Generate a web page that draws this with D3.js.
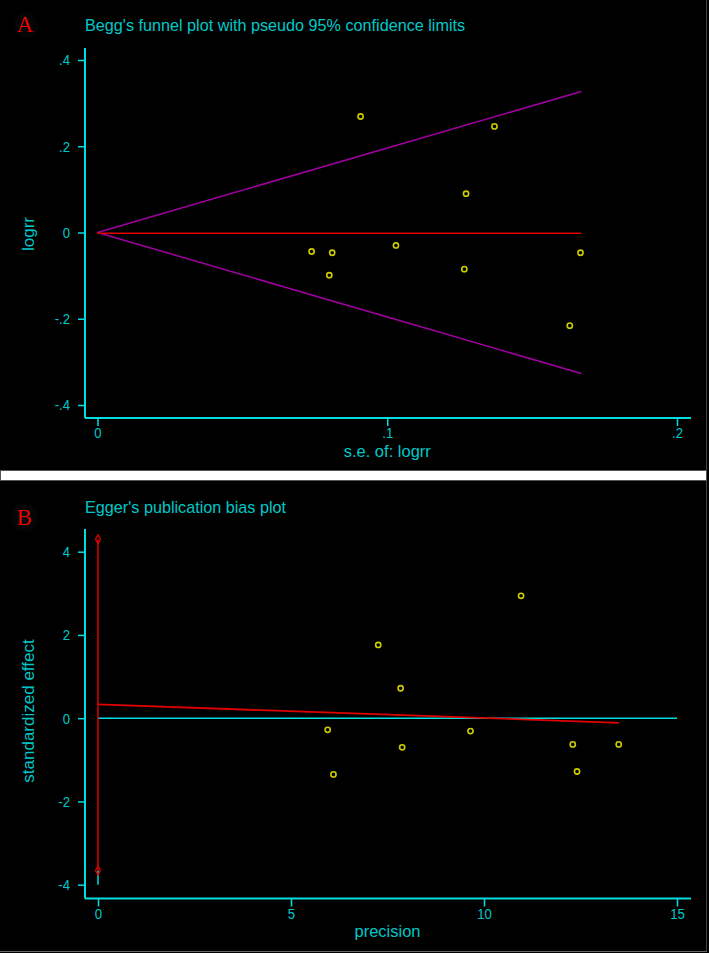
<!DOCTYPE html>
<html>
<head>
<meta charset="utf-8">
<script src="https://cdn.jsdelivr.net/npm/d3@7"></script>
<style>
  html, body { margin: 0; padding: 0; background: #000; }
  svg text { font-family: "Liberation Sans", Arial, sans-serif; }
</style>
</head>
<body>
<div id="chart"></div>
<script>
// Panel A: Begg's funnel plot
const beggSE = [0.0908, 0.137, 0.1272, 0.0739, 0.081, 0.080, 0.103, 0.1266, 0.1667, 0.163];
const beggLogRR = [0.269, 0.246, 0.090, -0.044, -0.047, -0.099, -0.030, -0.085, -0.047, -0.216];
const funnelSE = [0, 0.167];
const funnelUpper = [0, 0.327];
const funnelLower = [0, -0.327];
const pooledLogRR = [-0.002, -0.002];
const beggXTicks = [0, 0.1, 0.2];
const beggYTicks = [-0.4, -0.2, 0, 0.2, 0.4];

// Panel B: Egger's publication bias plot
const eggerPrecision = [10.96, 7.26, 7.84, 5.95, 6.10, 7.88, 9.65, 12.30, 12.41, 13.49];
const eggerEffect = [2.94, 1.76, 0.72, -0.28, -1.35, -0.70, -0.31, -0.63, -1.28, -0.63];
const eggerFitX = [0, 13.5];
const eggerFitY = [0.33, -0.11];
const eggerCI = [-3.66, 4.30];
const eggerXTicks = [0, 5, 10, 15];
const eggerYTicks = [-4, -2, 0, 2, 4];

const W = 709, H = 953;
const cyanText = "#00c8c8", cyanLine = "#00dede", yellow = "#cccc00";

const svg = d3.select("#chart").append("svg")
    .attr("width", W)
    .attr("height", H)
    .style("display", "block");

svg.append("rect").attr("width", W).attr("height", H).attr("fill", "#000");

// white separator band and frame edges
svg.append("rect")
    .attr("x", 0.5).attr("y", 470.5).attr("width", 706).attr("height", 10)
    .attr("fill", "#fff").attr("stroke", "#555");
svg.append("line").attr("x1", 706.5).attr("x2", 706.5).attr("y1", 0).attr("y2", 470)
    .attr("stroke", "#444");
svg.append("line").attr("x1", 706.5).attr("x2", 706.5).attr("y1", 481).attr("y2", 952)
    .attr("stroke", "#444");
svg.append("line").attr("x1", 0).attr("x2", 707).attr("y1", 951.5).attr("y2", 951.5)
    .attr("stroke", "#666");

const glow = svg.append("defs").append("filter").attr("id", "glow")
    .attr("x", "-150%").attr("y", "-150%").attr("width", "400%").attr("height", "400%");
glow.append("feGaussianBlur").attr("in", "SourceAlpha").attr("stdDeviation", 7).attr("result", "b");
glow.append("feFlood").attr("flood-color", "#3a3a3a");
glow.append("feComposite").attr("in2", "b").attr("operator", "in").attr("result", "s");
const gm = glow.append("feMerge");
gm.append("feMergeNode").attr("in", "s");
gm.append("feMergeNode").attr("in", "SourceGraphic");

// Stata style labels: no leading zero, plain hyphen for minus
const fmt = d => d === 0 ? "0" : d3.format(".1f")(d).replace("0.", ".").replace("−", "-");
const fmtInt = d => d3.format("d")(d).replace("−", "-");

function panel(opt) {
  const g = svg.append("g");
  const x = d3.scaleLinear().domain(opt.xDomain).range(opt.xRange);
  const y = d3.scaleLinear().domain(opt.yDomain).range(opt.yRange);

  // panel letter
  g.append("text")
      .attr("x", 17).attr("y", opt.letterY)
      .attr("fill", "#f00000")
      .style("font-family", "'Liberation Serif', 'Times New Roman', serif")
      .style("font-size", "23px")
      .attr("filter", "url(#glow)")
      .text(opt.letter);

  // title
  g.append("text")
      .attr("x", opt.frame.left).attr("y", opt.titleY)
      .attr("fill", cyanText)
      .style("font-size", "16.2px")
      .text(opt.title);

  // axes
  const yAxis = d3.axisLeft(y).tickValues(opt.yTicks).tickFormat(opt.yFormat)
      .tickSize(7).tickPadding(8);
  const xAxis = d3.axisBottom(x).tickValues(opt.xTicks).tickFormat(opt.xFormat)
      .tickSize(8).tickPadding(1);

  const ya = g.append("g").attr("transform", `translate(${opt.frame.left},0)`).call(yAxis);
  const xa = g.append("g").attr("transform", `translate(0,${opt.frame.bottom})`).call(xAxis);
  [ya, xa].forEach(a => {
    a.select(".domain").remove();
    a.selectAll("line").attr("stroke", cyanLine).attr("stroke-width", 1.5);
    a.selectAll("text").attr("fill", cyanText)
        .style("font-size", "15.5px")
        .attr("transform", "scale(0.85,1)")
        .style("font-family", "'Liberation Sans Narrow', 'Liberation Sans', Arial, sans-serif");
  });
  // keep the narrowed labels at their tick positions
  ya.selectAll("text").attr("x", -15 / 0.85);

  g.append("line")
      .attr("x1", opt.frame.left).attr("x2", opt.frame.left)
      .attr("y1", opt.frame.top).attr("y2", opt.frame.bottom)
      .attr("stroke", cyanLine).attr("stroke-width", 2);
  g.append("line")
      .attr("x1", opt.frame.left).attr("x2", opt.frame.right)
      .attr("y1", opt.frame.bottom).attr("y2", opt.frame.bottom)
      .attr("stroke", cyanLine).attr("stroke-width", 2);

  // axis titles
  g.append("text")
      .attr("transform", `translate(34,${opt.yLabelY}) rotate(-90)`)
      .attr("text-anchor", "middle")
      .attr("fill", cyanText)
      .style("font-size", "17px")
      .text(opt.yLabel);
  g.append("text")
      .attr("x", d3.mean(opt.xRange))
      .attr("y", opt.frame.bottom + 38.5)
      .attr("text-anchor", "middle")
      .attr("fill", cyanText)
      .style("font-size", "16.5px")
      .text(opt.xLabel);

  return { g, x, y };
}

// ---------- Panel A ----------
const A = panel({
  letter: "A", letterY: 32,
  title: "Begg's funnel plot with pseudo 95% confidence limits", titleY: 31,
  xDomain: [0, 0.2], xRange: [97.5, 677],
  yDomain: [-0.4, 0.4], yRange: [405, 60],
  frame: { left: 85, right: 691, top: 48, bottom: 418 },
  xTicks: beggXTicks, yTicks: beggYTicks, xFormat: fmt, yFormat: fmt,
  yLabel: "logrr", yLabelY: 234, xLabel: "s.e. of: logrr"
});

const lineA = d3.line().x(d => A.x(d[0])).y(d => A.y(d[1]));
[funnelUpper, funnelLower].forEach(lim => {
  A.g.append("path")
      .datum(funnelSE.map((s, i) => [s, lim[i]]))
      .attr("d", lineA)
      .attr("fill", "none").attr("stroke", "#a000a0").attr("stroke-width", 1.5);
});
A.g.append("path")
    .datum(funnelSE.map((s, i) => [s, pooledLogRR[i]]))
    .attr("d", lineA)
    .attr("fill", "none").attr("stroke", "#e00000").attr("stroke-width", 1.5);

A.g.selectAll("circle.pt")
    .data(beggSE.map((s, i) => [s, beggLogRR[i]]))
    .join("circle")
    .attr("class", "pt")
    .attr("cx", d => A.x(d[0])).attr("cy", d => A.y(d[1]))
    .attr("r", 2.6)
    .attr("fill", "none").attr("stroke", yellow).attr("stroke-width", 1.6);

// ---------- Panel B ----------
const B = panel({
  letter: "B", letterY: 525,
  title: "Egger's publication bias plot", titleY: 513,
  xDomain: [0, 15], xRange: [98, 677],
  yDomain: [-4, 4], yRange: [884.7, 551.7],
  frame: { left: 85, right: 691, top: 529, bottom: 898.5 },
  xTicks: eggerXTicks, yTicks: eggerYTicks, xFormat: fmtInt, yFormat: fmtInt,
  yLabel: "standardized effect", yLabelY: 711, xLabel: "precision"
});

// reference line at 0 and vertical at precision 0
B.g.append("line")
    .attr("x1", B.x(0)).attr("x2", B.x(15))
    .attr("y1", B.y(0)).attr("y2", B.y(0))
    .attr("stroke", cyanLine).attr("stroke-width", 1.5);
B.g.append("line")
    .attr("x1", B.x(0)).attr("x2", B.x(0))
    .attr("y1", B.y(-4)).attr("y2", B.y(eggerCI[0]))
    .attr("stroke", cyanLine).attr("stroke-width", 1.5);

// intercept confidence interval
B.g.append("line")
    .attr("x1", B.x(0)).attr("x2", B.x(0))
    .attr("y1", B.y(eggerCI[0])).attr("y2", B.y(eggerCI[1]))
    .attr("stroke", "#e00000").attr("stroke-width", 1.5);
B.g.selectAll("path.ci")
    .data(eggerCI)
    .join("path")
    .attr("class", "ci")
    .attr("transform", d => `translate(${B.x(0)},${B.y(d)})`)
    .attr("d", d3.symbol(d3.symbolDiamond, 22))
    .attr("fill", "none").attr("stroke", "#e00000").attr("stroke-width", 1.3);

// regression line
B.g.append("path")
    .datum(eggerFitX.map((v, i) => [v, eggerFitY[i]]))
    .attr("d", d3.line().x(d => B.x(d[0])).y(d => B.y(d[1])))
    .attr("fill", "none").attr("stroke", "#e00000").attr("stroke-width", 1.8);

B.g.selectAll("circle.pt")
    .data(eggerPrecision.map((p, i) => [p, eggerEffect[i]]))
    .join("circle")
    .attr("class", "pt")
    .attr("cx", d => B.x(d[0])).attr("cy", d => B.y(d[1]))
    .attr("r", 2.6)
    .attr("fill", "none").attr("stroke", yellow).attr("stroke-width", 1.6);
</script>
</body>
</html>
